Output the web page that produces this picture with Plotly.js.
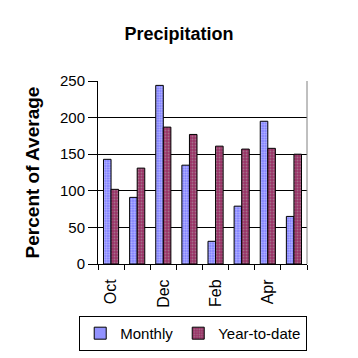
<!DOCTYPE html>
<html>
<head>
<meta charset="utf-8">
<script src="https://cdn.plot.ly/plotly-3.0.1.min.js"></script>
<style>html,body{margin:0;padding:0;background:#fff;}#chart{width:358px;height:358px;}</style>
</head>
<body>
<div id="chart"></div>
<script>
const months = ["Oct", "Nov", "Dec", "Jan", "Feb", "Mar", "Apr", "May"];
const tickLabels = ["Oct", "", "Dec", "", "Feb", "", "Apr", ""];
const monthly = [143, 91, 244, 135, 31, 79, 195, 65];
const yearToDate = [102, 131, 187, 177, 161, 157, 158, 150];

const traces = [
  {
    type: "bar", name: "Monthly", x: months, y: monthly,
    marker: {
      color: "#8080ff",
      line: {color: "#000", width: 1},
      pattern: {shape: ".", bgcolor: "#7373ff", fgcolor: "#ffffff", size: 2.5, solidity: 0.5, fillmode: "overlay"}
    }
  },
  {
    type: "bar", name: "Year-to-date", x: months, y: yearToDate,
    marker: {
      color: "#993366",
      line: {color: "#000", width: 1},
      pattern: {shape: ".", bgcolor: "#993366", fgcolor: "#b0b0b0", size: 3, solidity: 0.3, fillmode: "overlay"}
    }
  }
];

const layout = {
  width: 358, height: 358,
  margin: {l: 98, r: 51, t: 81, b: 94, autoexpand: false},
  paper_bgcolor: "#fff", plot_bgcolor: "#fff",
  font: {family: "Liberation Sans, Arial, sans-serif", size: 15, color: "#000"},
  title: {text: "<b>Precipitation</b>", font: {size: 18}, x: 0.5, xanchor: "center", y: 0.905, yanchor: "middle"},
  barmode: "group", bargap: 0.42, bargroupgap: 0,
  showlegend: true,
  legend: {orientation: "h", x: 1.001, xanchor: "right", y: -0.475, yanchor: "bottom",
           bordercolor: "#000", borderwidth: 1, font: {size: 15}, traceorder: "normal",
           itemwidth: 30, tracegroupgap: 0},
  xaxis: {
    type: "category", tickmode: "array", tickvals: months, ticktext: tickLabels,
    tickangle: -90, ticks: "outside", tickson: "boundaries", ticklen: 5, tickcolor: "#000",
    ticklabelstandoff: 8, automargin: false,
    showline: true, linecolor: "#000", linewidth: 1, showgrid: false, mirror: false,
    tickfont: {size: 16}
  },
  yaxis: {
    range: [0, 250], dtick: 50, ticks: "outside", ticklen: 9, tickcolor: "#000",
    showline: true, linecolor: "#000", linewidth: 1, automargin: false,
    showgrid: true, gridcolor: "#000", gridwidth: 1, zeroline: false,
    title: {text: "<b>Percent of Average</b>", font: {size: 19}, standoff: 15},
    tickfont: {size: 15}
  },
  shapes: [
    {type: "line", xref: "paper", yref: "paper", x0: 1, x1: 1, y0: 0, y1: 1, line: {color: "#808080", width: 1}}
  ]
};

Plotly.newPlot("chart", traces, layout, {displayModeBar: false, staticPlot: true});
</script>
</body>
</html>
